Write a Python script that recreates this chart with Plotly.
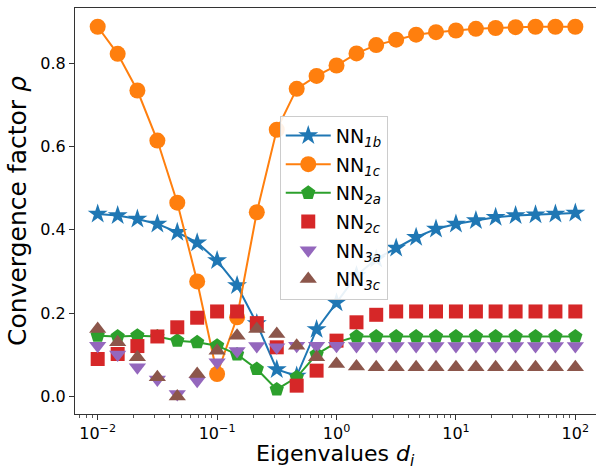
import plotly.graph_objects as go

eigenvalues = [0.01, 0.0147, 0.0215, 0.0316, 0.0464, 0.0681, 0.1, 0.147, 0.215, 0.316,
               0.464, 0.681, 1.0, 1.47, 2.15, 3.16, 4.64, 6.81, 10.0, 14.7, 21.5, 31.6,
               46.4, 68.1, 100.0]

nn1b = [0.438, 0.434, 0.426, 0.414, 0.394, 0.369, 0.326, 0.266, 0.175, 0.065, 0.049, 0.161,
        0.225, 0.29, 0.33, 0.356, 0.382, 0.402, 0.414, 0.422, 0.430, 0.434, 0.436, 0.438, 0.440]
nn1c = [0.887, 0.822, 0.734, 0.614, 0.465, 0.276, 0.054, 0.19, 0.442, 0.640, 0.738, 0.769,
        0.794, 0.823, 0.843, 0.856, 0.868, 0.874, 0.878, 0.882, 0.884, 0.886, 0.887, 0.887, 0.887]
nn2a = [0.146, 0.144, 0.146, 0.144, 0.134, 0.130, 0.122, 0.101, 0.066, 0.017, 0.046, 0.101,
        0.130, 0.144, 0.144, 0.144, 0.144, 0.144, 0.144, 0.144, 0.144, 0.144, 0.144, 0.144, 0.144]
nn2c = [0.090, 0.102, 0.121, 0.144, 0.166, 0.189, 0.204, 0.204, 0.176, 0.118, 0.026, 0.062,
        0.134, 0.178, 0.196, 0.204, 0.204, 0.204, 0.204, 0.204, 0.204, 0.204, 0.204, 0.204, 0.204]
nn3a = [0.122, 0.101, 0.070, 0.041, 0.006, 0.038, 0.082, 0.109, 0.121, 0.118, 0.122, 0.122,
        0.122, 0.121, 0.121, 0.121, 0.121, 0.121, 0.121, 0.121, 0.121, 0.121, 0.121, 0.121, 0.121]
nn3c = [0.162, 0.130, 0.094, 0.046, 0.0, 0.054, 0.110, 0.146, 0.162, 0.150, 0.122, 0.094,
        0.078, 0.072, 0.070, 0.070, 0.070, 0.070, 0.070, 0.070, 0.070, 0.070, 0.070, 0.070, 0.070]

y_ticks = [0.0, 0.2, 0.4, 0.6, 0.8]
x_tick_vals = [0.01, 0.1, 1, 10, 100]
x_tick_text = ["10<sup>−2</sup>", "10<sup>−1</sup>", "10<sup>0</sup>", "10<sup>1</sup>", "10<sup>2</sup>"]
x_minor_vals = [m * d for d in [0.001, 0.01, 0.1, 1, 10, 100] for m in range(2, 10)]

series = [
    ("NN<sub><i>1b</i></sub>", nn1b, "#1f77b4", "star", 15, "lines+markers"),
    ("NN<sub><i>1c</i></sub>", nn1c, "#ff7f0e", "circle", 16, "lines+markers"),
    ("NN<sub><i>2a</i></sub>", nn2a, "#2ca02c", "pentagon", 15, "lines+markers"),
    ("NN<sub><i>2c</i></sub>", nn2c, "#d62728", "square", 14, "markers"),
    ("NN<sub><i>3a</i></sub>", nn3a, "#9467bd", "triangle-down", 15, "markers"),
    ("NN<sub><i>3c</i></sub>", nn3c, "#8c564b", "triangle-up", 15, "markers"),
]

fig = go.Figure()
for i, (name, vals, color, sym, size, mode) in enumerate(series):
    fig.add_trace(go.Scatter(
        x=eigenvalues, y=vals, name=name, mode=mode, legendgroup=f"g{i}",
        line=dict(color=color, width=2),
        marker=dict(color=color, symbol=sym, size=size, line=dict(width=0)),
    ))

font_family = "DejaVu Sans"
fig.update_layout(
    width=596, height=469,
    margin=dict(l=75, r=0, t=8, b=55),
    paper_bgcolor="white", plot_bgcolor="white",
    font=dict(family=font_family, color="black", size=16),
    showlegend=True,
    legend=dict(
        x=0.393, y=0.735, xanchor="left", yanchor="top",
        bgcolor="rgba(255,255,255,0.9)", bordercolor="#cccccc", borderwidth=1,
        font=dict(size=19, family=font_family),
        tracegroupgap=1, itemwidth=45,
    ),
)
fig.add_annotation(
    text="Eigenvalues <i>d</i><sub><i>i</i></sub>",
    xref="paper", yref="paper", x=0.5, y=-0.064, xanchor="center", yanchor="top",
    showarrow=False, borderpad=0, font=dict(size=22, family=font_family, color="black"),
)
fig.update_xaxes(
    type="log", range=[-2.19, 2.173], automargin=False,
    tickmode="array", tickvals=x_tick_vals, ticktext=x_tick_text,
    showgrid=False, zeroline=False,
    showline=True, linecolor="#333333", linewidth=1, mirror=True,
    ticks="outside", ticklen=5, tickcolor="#333333",
    minor=dict(tickmode="array", tickvals=x_minor_vals, ticks="outside", ticklen=3,
               tickcolor="#555555", showgrid=False),
    tickfont=dict(size=16),
)
fig.update_yaxes(
    range=[-0.042, 0.932],
    tickvals=y_ticks, tickformat=".1f",
    showgrid=False, zeroline=False,
    showline=True, linecolor="#333333", linewidth=1, mirror=True,
    ticks="outside", ticklen=5, tickcolor="#333333",
    tickfont=dict(size=16),
    title=dict(text="Convergence factor <i>ρ</i>", font=dict(size=25), standoff=6),
)

fig.write_html("out.html")
